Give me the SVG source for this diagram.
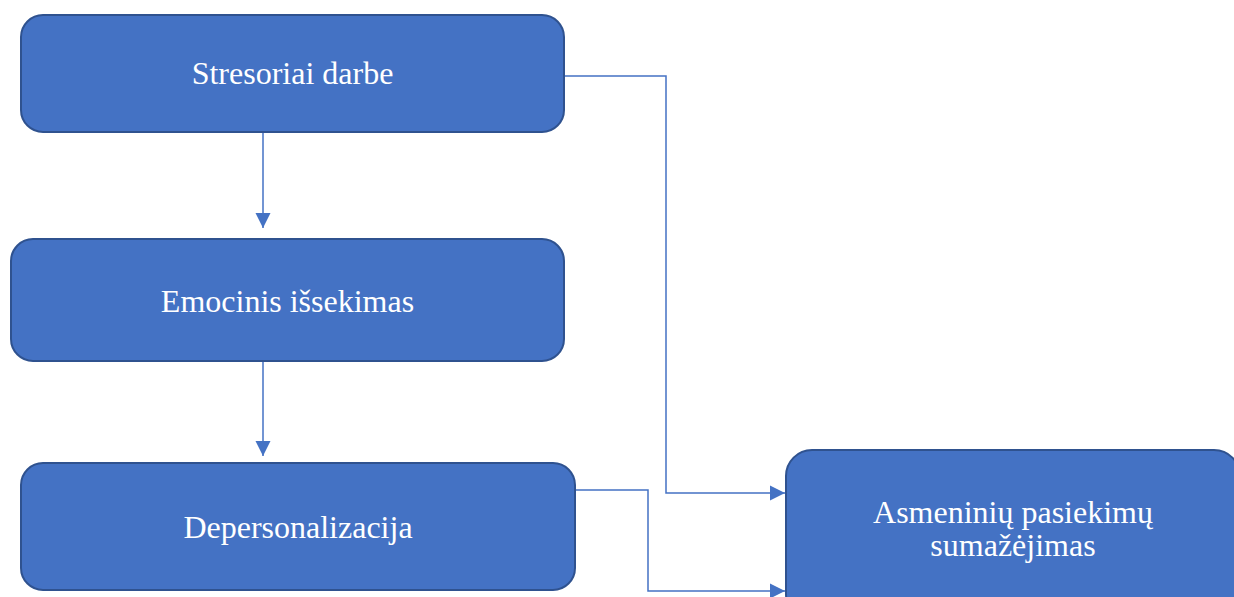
<svg xmlns="http://www.w3.org/2000/svg" width="1234" height="597" viewBox="0 0 1234 597">
<style>
.box{fill:#4472C4;stroke:#2F528F;stroke-width:2}
.lbl{fill:#FFFFFF;font-family:"Liberation Serif","Times New Roman",serif;font-size:32px;text-anchor:middle}
.con{fill:none;stroke:#4472C4;stroke-width:1.5}
</style>
<defs>
<marker id="arr" markerUnits="userSpaceOnUse" markerWidth="16" markerHeight="16" refX="15" refY="8" orient="auto">
<path d="M0,0.5 L15,8 L0,15.5 Z" fill="#4472C4"/>
</marker>
</defs>
<rect width="1234" height="597" fill="#FFFFFF"/>
<g id="connectors">
<path class="con" d="M263,132 V228" marker-end="url(#arr)"/>
<path class="con" d="M263,361 V456" marker-end="url(#arr)"/>
<path class="con" d="M564,76 H666 V493 H785" marker-end="url(#arr)"/>
<path class="con" d="M575,490 H648 V591 H785" marker-end="url(#arr)"/>
</g>
<g id="node-stresoriai">
<rect class="box" x="21" y="15" width="543" height="117" rx="22"/>
<text class="lbl" x="292.5" y="84">Stresoriai darbe</text>
</g>
<g id="node-emocinis">
<rect class="box" x="11" y="239" width="553" height="122" rx="22"/>
<text class="lbl" x="287.5" y="312">Emocinis išsekimas</text>
</g>
<g id="node-depersonalizacija">
<rect class="box" x="21" y="463" width="554" height="127" rx="22"/>
<text class="lbl" x="298" y="538">Depersonalizacija</text>
</g>
<g id="node-asmeniniu">
<rect class="box" x="786" y="450" width="454" height="170" rx="26"/>
<text class="lbl" x="1013" y="523">Asmeninių pasiekimų</text>
<text class="lbl" x="1013" y="556">sumažėjimas</text>
</g>
</svg>
